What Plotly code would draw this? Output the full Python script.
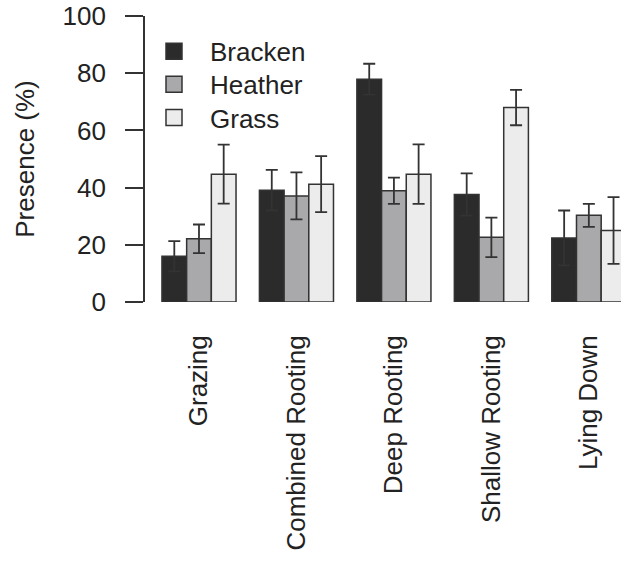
import plotly.graph_objects as go

categories = ["Grazing", "Combined Rooting", "Deep Rooting", "Shallow Rooting", "Lying Down"]
bracken = [16.0, 39.1, 77.9, 37.6, 22.4]
bracken_err = [5.3, 7.1, 5.4, 7.4, 9.6]
heather = [22.1, 37.1, 38.9, 22.6, 30.3]
heather_err = [5.0, 8.2, 4.6, 6.9, 4.0]
grass = [44.7, 41.2, 44.7, 68.0, 25.0]
grass_err = [10.3, 9.8, 10.4, 6.2, 11.7]

series = [
    ("Bracken", bracken, bracken_err, "#2b2b2b"),
    ("Heather", heather, heather_err, "#a9a9ab"),
    ("Grass", grass, grass_err, "#ececec"),
]

FONT = "Liberation Sans, Arial, sans-serif"
OUT = "#333333"
FS = 26

fig = go.Figure()
for name, vals, errs, col in series:
    fig.add_trace(go.Bar(
        x=categories, y=vals, name=name, showlegend=False,
        marker=dict(color=col, line=dict(color=OUT, width=1.5)),
        error_y=dict(type="data", array=errs, color=OUT, thickness=1.8, width=6),
    ))
legend_ids = ["legend", "legend2", "legend3"]
legend_y = [0.8764, 0.7613, 0.6447]
for (name, vals, errs, col), lid in zip(series, legend_ids):
    fig.add_trace(go.Scatter(
        x=[None], y=[None], mode="markers", name=name, legend=lid,
        marker=dict(symbol="square", size=16, color=col, line=dict(color=OUT, width=1.5)),
    ))

layout_legends = {}
for lid, ly in zip(legend_ids, legend_y):
    layout_legends[lid] = dict(x=-0.0147, y=ly, xanchor="left", yanchor="middle",
                               bgcolor="rgba(0,0,0,0)", font=dict(size=FS),
                               itemsizing="trace", itemwidth=62)

fig.update_layout(
    width=621, height=568,
    margin=dict(l=145, r=0, t=16, b=266),
    paper_bgcolor="white", plot_bgcolor="white",
    barmode="group", bargap=0.24, bargroupgap=0,
    font=dict(family=FONT, size=FS, color="#222222"),
    xaxis=dict(type="category", range=[-0.554, 4.33], showline=False, showgrid=False,
               zeroline=False, ticks="", tickangle=-90, ticklabelstandoff=27,
               tickfont=dict(size=FS)),
    yaxis=dict(range=[0, 100], tickvals=[0, 20, 40, 60, 80, 100], showline=True,
               linecolor=OUT, linewidth=1.8, ticks="outside", ticklen=18, tickwidth=1.8,
               tickcolor=OUT, showgrid=False, zeroline=False, ticklabelstandoff=14,
               tickfont=dict(size=FS),
               title=dict(text="Presence (%)", font=dict(size=FS), standoff=20)),
    **layout_legends,
)

fig.write_html("out.html")
